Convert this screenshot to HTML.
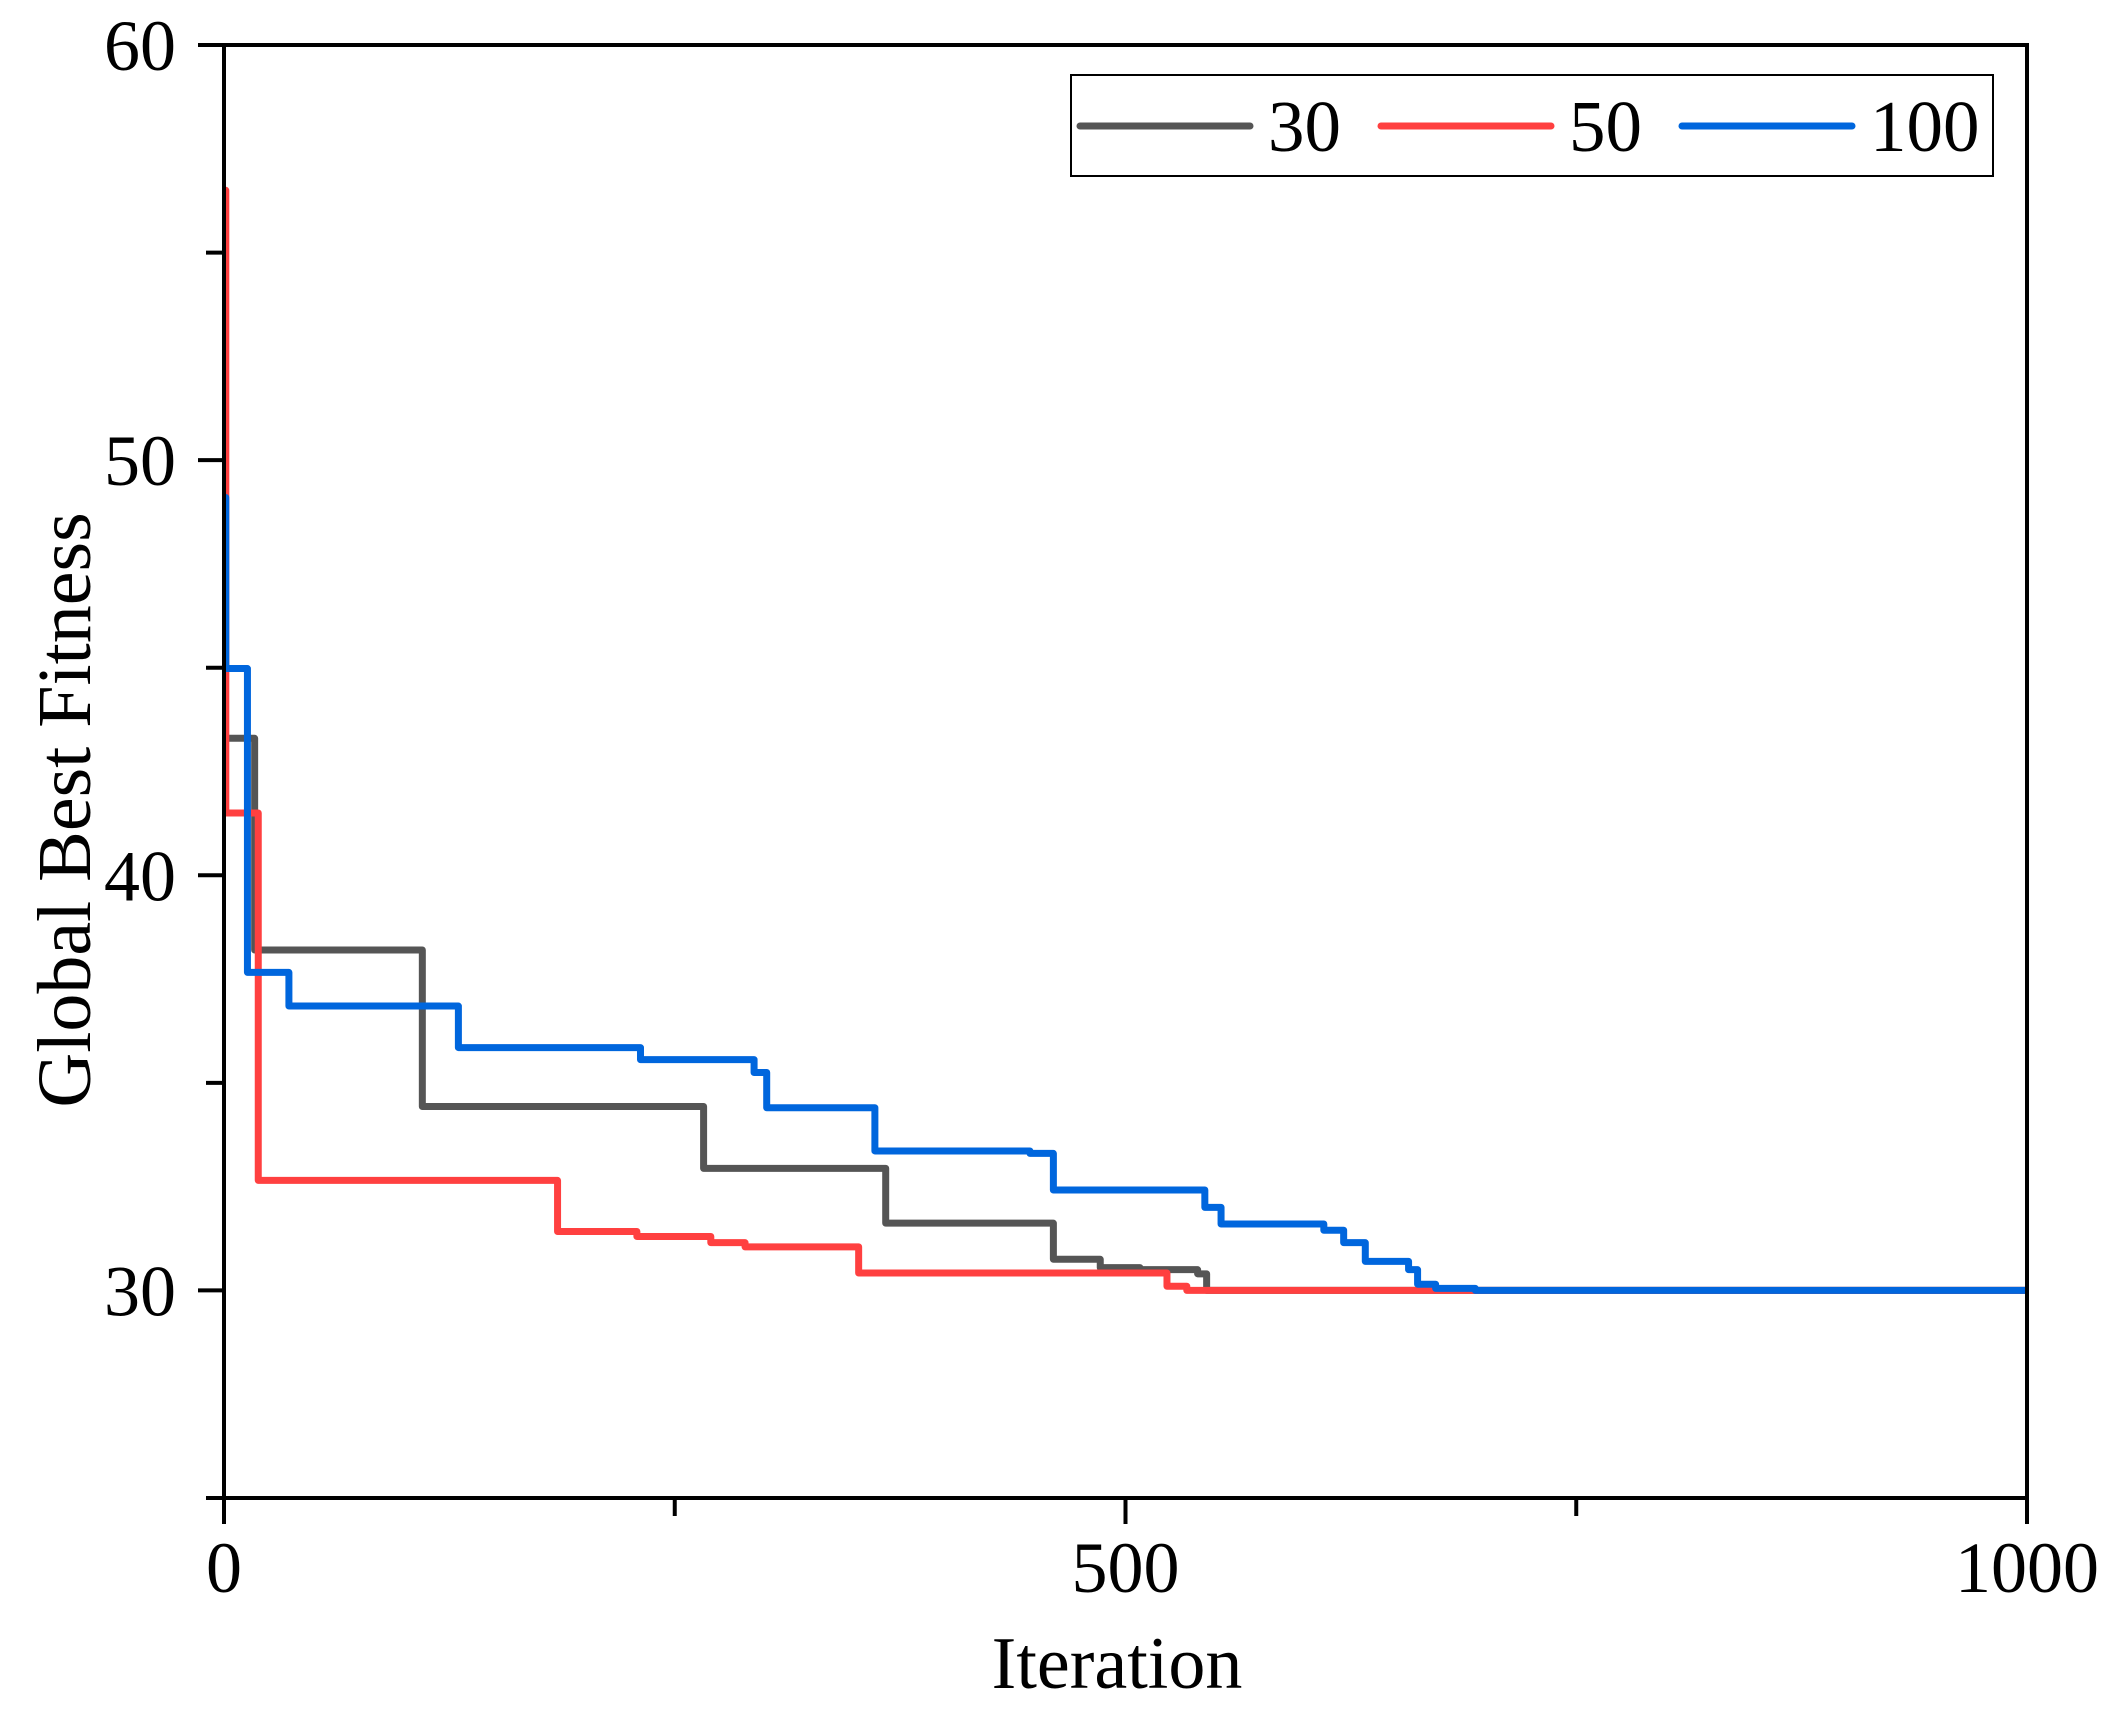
<!DOCTYPE html>
<html><head><meta charset="utf-8"><style>
html,body{margin:0;padding:0;background:#fff;}
svg text{font-family:"Liberation Serif",serif;fill:#000;}
</style></head><body>
<svg id="chart" width="2103" height="1714" viewBox="0 0 2103 1714" xmlns="http://www.w3.org/2000/svg">
<g id="series"></g>
<g id="axes"></g>
<g id="legend"></g>
</svg>
<script>
const xTicks=[0,250,500,750,1000];
const xTickLabels=["0","","500","","1000"];
const yTicks=[25,30,35,40,45,50,55,60];
const yTickLabels=["","30","","40","","50","","60"];
const seriesNames=["30","50","100"];
const seriesColors=["#555555","#ff4040","#0066dd"];
const s30Iter=[0,17,110,266,367,460,486,508,540,545,1000];
const s30Val=[43.3,38.2,34.43,32.94,31.62,30.75,30.55,30.5,30.4,30.0,30.0];
const s50Iter=[0,1,19,185,229,270,289,352,523,534,1000];
const s50Val=[56.5,41.5,32.65,31.42,31.3,31.15,31.05,30.42,30.1,30.0,30.0];
const s100Iter=[0,1,13,36,130,231,294,301,361,447,460,544,553,610,621,633,657,662,672,694,1000];
const s100Val=[49.1,44.98,37.66,36.85,35.85,35.56,35.25,34.4,33.36,33.3,32.42,32.0,31.6,31.45,31.15,30.7,30.5,30.15,30.05,30.0,30.0];

const L=224,R=2027,T=45,B=1498,xMin=0,xMax=1000,yMin=25,yMax=60;
const xS=v=>L+(v-xMin)/(xMax-xMin)*(R-L);
const yS=v=>B-(v-yMin)/(yMax-yMin)*(B-T);
const NS="http://www.w3.org/2000/svg";
function mk(tag,attrs,parent){const e=document.createElementNS(NS,tag);for(const k in attrs)e.setAttribute(k,attrs[k]);parent.appendChild(e);return e;}
const sg=document.getElementById('series'),ag=document.getElementById('axes'),lg=document.getElementById('legend');

const all=[[s30Iter,s30Val],[s50Iter,s50Val],[s100Iter,s100Val]];
all.forEach((s,i)=>{
  let d="M"+xS(s[0][0])+","+yS(s[1][0]);
  for(let j=1;j<s[0].length;j++){d+=" L"+xS(s[0][j])+","+yS(s[1][j-1])+" L"+xS(s[0][j])+","+yS(s[1][j]);}
  const p=mk('path',{d:d,fill:'none',stroke:seriesColors[i],'stroke-width':7,'stroke-linejoin':'round'},sg);
  
  
});

const frame=mk('rect',{x:L,y:T,width:R-L,height:B-T,fill:'none',stroke:'#000','stroke-width':4},ag);


yTicks.forEach((v,i)=>{
  const len=yTickLabels[i]?26:18;
  const t=mk('line',{x1:L-len,x2:L,y1:yS(v),y2:yS(v),stroke:'#000','stroke-width':4},ag);
  
  
  if(yTickLabels[i]){
    const tx=mk('text',{x:176,y:yS(v)+25,'text-anchor':'end','font-size':72},ag);
    tx.textContent=yTickLabels[i];
    
    
  }
});
xTicks.forEach((v,i)=>{
  const len=xTickLabels[i]?26:18;
  const t=mk('line',{x1:xS(v),x2:xS(v),y1:B,y2:B+len,stroke:'#000','stroke-width':4},ag);
  
  
  if(xTickLabels[i]){
    const tx=mk('text',{x:xS(v),y:1592,'text-anchor':'middle','font-size':72},ag);
    tx.textContent=xTickLabels[i];
    
    
  }
});
const xt=mk('text',{x:1117,y:1688,'text-anchor':'middle','font-size':74},ag);
xt.textContent="Iteration";


const yt=mk('text',{x:0,y:0,'text-anchor':'middle','font-size':76,transform:'translate(90,810) rotate(-90)'},ag);
yt.textContent="Global Best Fitness";



const lb=mk('rect',{x:1071,y:75,width:922,height:101,fill:'#fff',stroke:'#000','stroke-width':2},lg);


const lx=[1080,1381,1682];
seriesNames.forEach((n,i)=>{
  const ln=mk('line',{x1:lx[i],x2:lx[i]+170,y1:126,y2:126,stroke:seriesColors[i],'stroke-width':7,'stroke-linecap':'round'},lg);
  
  
  const tx=mk('text',{x:lx[i]+188,y:151,'font-size':73},lg);
  tx.textContent=n;
  
  
});
</script>
</body></html>
